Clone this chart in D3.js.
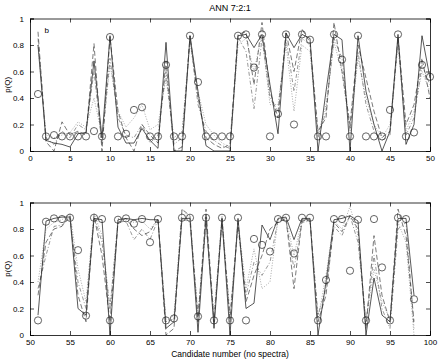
<!DOCTYPE html>
<html>
<head>
<meta charset="utf-8">
<script src="https://cdn.jsdelivr.net/npm/d3@7"></script>
<style>
  body { margin: 0; background: #fff; }
  text { font-family: "Liberation Sans", Arial, sans-serif; fill: #000; }
</style>
</head>
<body>
<div id="chart"></div>
<script>
// candidate numbers
var candTop = d3.range(1, 51);
var candBot = d3.range(51, 99);

// circles (target values)
var circTop = [0.43,0.11,0.12,0.11,0.11,0.11,0.11,0.15,0.11,0.86,
  0.11,0.13,0.31,0.33,0.11,0.11,0.65,0.11,0.11,0.87,
  0.52,0.11,0.11,0.11,0.11,0.87,0.88,0.63,0.88,0.11,
  0.28,0.88,0.20,0.88,0.84,0.11,0.11,0.88,0.69,0.11,
  0.87,0.11,0.11,0.11,0.31,0.88,0.11,0.14,0.65,0.56];
var circBot = [0.11,0.855,0.88,0.875,0.885,0.64,0.146,0.885,0.875,0.11,
  0.87,0.88,0.84,0.875,0.70,0.875,0.11,0.125,0.885,0.885,
  0.14,0.885,0.11,0.885,0.11,0.885,0.11,0.725,0.68,0.63,
  0.875,0.885,0.615,0.885,0.885,0.11,0.415,0.875,0.875,0.485,
  0.87,0.11,0.875,0.51,0.11,0.885,0.875,0.27];

// network outputs, top panel (1..50)
var solidTop = [0.80,0.08,0.06,0.05,0.03,0.13,0.14,0.68,0.10,0.87,
  0.18,0.06,0.06,0.17,0.08,0.02,0.82,0.00,0.00,0.87,
  0.45,0.04,0.00,0.00,0.00,0.87,0.88,0.78,0.88,0.50,
  0.13,0.89,0.78,0.88,0.85,0.00,0.45,0.88,0.84,0.00,
  0.87,0.45,0.20,0.00,0.15,0.88,0.05,0.20,0.87,0.55];
var dashTop = [0.90,0.07,0.00,0.22,0.12,0.15,0.12,0.81,0.00,0.86,
  0.30,0.10,0.00,0.20,0.12,0.06,0.68,0.00,0.03,0.87,
  0.40,0.10,0.05,0.02,0.05,0.88,0.90,0.50,0.97,0.45,
  0.25,0.90,0.60,0.92,0.82,0.15,0.25,0.97,0.60,0.20,
  0.80,0.55,0.30,0.10,0.15,0.86,0.20,0.35,0.70,0.40];
var dashDotTop = [0.85,0.10,0.05,0.15,0.10,0.20,0.16,0.60,0.05,0.70,
  0.25,0.12,0.10,0.20,0.06,0.12,0.60,0.05,0.10,0.85,
  0.35,0.15,0.08,0.04,0.02,0.86,0.75,0.32,0.85,0.40,
  0.30,0.85,0.45,0.85,0.80,0.10,0.30,0.85,0.70,0.15,
  0.75,0.35,0.15,0.08,0.12,0.84,0.12,0.25,0.65,0.50];
var dotTop = [0.80,0.12,0.10,0.12,0.14,0.22,0.18,0.40,0.12,0.65,
  0.30,0.18,0.25,0.35,0.16,0.20,0.55,0.10,0.15,0.82,
  0.45,0.20,0.12,0.06,0.03,0.80,0.85,0.60,0.88,0.35,
  0.35,0.80,0.30,0.80,0.75,0.12,0.35,0.82,0.60,0.15,
  0.70,0.40,0.20,0.10,0.20,0.80,0.15,0.30,0.60,0.45];

// network outputs, bottom panel (51..98)
var solidBot = [0.15,0.86,0.88,0.89,0.89,0.20,0.15,0.88,0.87,0.00,
  0.87,0.88,0.87,0.88,0.87,0.87,0.05,0.10,0.88,0.88,
  0.02,0.89,0.05,0.88,0.00,0.88,0.20,0.24,0.83,0.72,
  0.88,0.89,0.72,0.88,0.88,0.00,0.40,0.87,0.88,0.90,
  0.86,0.00,0.43,0.15,0.10,0.88,0.88,0.30];
var dashBot = [0.30,0.70,0.80,0.82,0.90,0.30,0.10,0.90,0.60,0.10,
  0.85,0.88,0.80,0.75,0.78,0.88,0.00,0.05,0.95,0.90,
  0.10,0.95,0.10,0.88,0.10,0.85,0.25,0.45,0.60,0.80,
  0.85,0.88,0.35,0.87,0.87,0.10,0.30,0.85,0.78,0.90,
  0.80,0.05,0.75,0.30,0.10,0.95,0.75,0.10];
var dashDotBot = [0.35,0.60,0.82,0.83,0.88,0.40,0.20,0.90,0.70,0.20,
  0.85,0.86,0.72,0.80,0.72,0.87,0.10,0.12,0.88,0.85,
  0.15,0.85,0.10,0.85,0.15,0.82,0.30,0.55,0.45,0.55,
  0.87,0.86,0.50,0.85,0.86,0.15,0.35,0.82,0.75,0.90,
  0.70,0.10,0.60,0.20,0.05,0.80,0.85,0.05];
var dotBot = [0.40,0.80,0.85,0.87,0.92,0.50,0.25,0.92,0.75,0.20,
  0.88,0.87,0.85,0.86,0.80,0.87,0.10,0.15,0.95,0.88,
  0.15,0.85,0.15,0.90,0.12,0.86,0.35,0.65,0.35,0.40,
  0.87,0.88,0.60,0.87,0.87,0.12,0.45,0.86,0.80,0.97,
  0.75,0.10,0.50,0.25,0.12,0.85,0.70,0.00];

var xTicksTop = d3.range(0, 51, 5);
var xTicksBot = d3.range(50, 101, 5);
var yTicks = [0, 0.2, 0.4, 0.6, 0.8, 1];

var svgWidth = 442, svgHeight = 360;
var svg = d3.select("#chart").append("svg")
  .attr("width", svgWidth)
  .attr("height", svgHeight);

var left = 30, right = 430;

svg.append("text")
  .attr("x", 230).attr("y", 11)
  .attr("text-anchor", "middle")
  .attr("font-size", "9px")
  .text("ANN 7:2:1");

function panel(top, bottom, xDomain, xTicks, cand, circ, lines, clipId) {
  var x = d3.scaleLinear().domain(xDomain).range([left, right]);
  var y = d3.scaleLinear().domain([0, 1]).range([bottom, top]);

  svg.append("clipPath").attr("id", clipId)
    .append("rect")
    .attr("x", left).attr("y", top)
    .attr("width", right - left).attr("height", bottom - top);

  var g = svg.append("g");

  // lines
  var line = d3.line().x(d => x(d[0])).y(d => y(d[1]));
  lines.forEach(function(s) {
    g.append("path")
      .datum(cand.map((c, i) => [c, s.values[i]]))
      .attr("clip-path", "url(#" + clipId + ")")
      .attr("fill", "none")
      .attr("stroke", s.color)
      .attr("stroke-width", s.width)
      .attr("stroke-dasharray", s.dash)
      .attr("d", line);
  });

  // circles
  g.selectAll("circle.m")
    .data(cand.map((c, i) => [c, circ[i]]))
    .enter().append("circle")
    .attr("cx", d => x(d[0]))
    .attr("cy", d => y(d[1]))
    .attr("r", 3.6)
    .attr("fill", "none")
    .attr("stroke", "#222")
    .attr("stroke-width", 0.7);

  // axes with inward ticks, mirrored on top and right
  var axB = g.append("g").attr("transform", `translate(0,${bottom})`)
    .call(d3.axisBottom(x).tickValues(xTicks).tickSize(-4).tickPadding(4).tickFormat(d3.format("d")));
  var axT = g.append("g").attr("transform", `translate(0,${top})`)
    .call(d3.axisTop(x).tickValues(xTicks).tickSize(-4).tickFormat(""));
  var axL = g.append("g").attr("transform", `translate(${left},0)`)
    .call(d3.axisLeft(y).tickValues(yTicks).tickSize(-4).tickPadding(6).tickFormat(d => d === 0 || d === 1 ? d : d3.format(".1f")(d)));
  var axR = g.append("g").attr("transform", `translate(${right},0)`)
    .call(d3.axisRight(y).tickValues(yTicks).tickSize(-4).tickFormat(""));

  [axB, axT, axL, axR].forEach(function(a) {
    a.selectAll("path").attr("stroke", "#000").attr("stroke-width", 0.8);
    a.selectAll("line").attr("stroke", "#000").attr("stroke-width", 0.7);
    a.selectAll("text").attr("font-size", "8px").attr("font-family", "Liberation Sans, Arial, sans-serif");
  });

  g.append("text")
    .attr("transform", `translate(10,${(top + bottom) / 2}) rotate(-90)`)
    .attr("text-anchor", "middle")
    .attr("font-size", "8px")
    .text("p(Q)");

  return { x: x, y: y };
}

var styles = [
  { dash: null, width: 0.7, color: "#111" },
  { dash: "5,2.5", width: 0.6, color: "#222" },
  { dash: "4,2,1,2", width: 0.5, color: "#333" },
  { dash: "1,1.6", width: 0.5, color: "#555" }
];

function withStyles(arrs) {
  return arrs.map((v, i) => ({ values: v, dash: styles[i].dash, width: styles[i].width, color: styles[i].color }));
}

var p1 = panel(18.5, 151, [0, 50], xTicksTop, candTop, circTop,
  withStyles([solidTop, dashTop, dashDotTop, dotTop]), "clipTop");

svg.append("text")
  .attr("x", p1.x(1.8)).attr("y", p1.y(0.89))
  .attr("font-size", "8px")
  .text("b");

panel(202.5, 335, [50, 100], xTicksBot, candBot, circBot,
  withStyles([solidBot, dashBot, dashDotBot, dotBot]), "clipBot");

svg.append("text")
  .attr("x", 230).attr("y", 357)
  .attr("text-anchor", "middle")
  .attr("font-size", "8.5px")
  .text("Candidate number (no spectra)");
</script>
</body>
</html>
